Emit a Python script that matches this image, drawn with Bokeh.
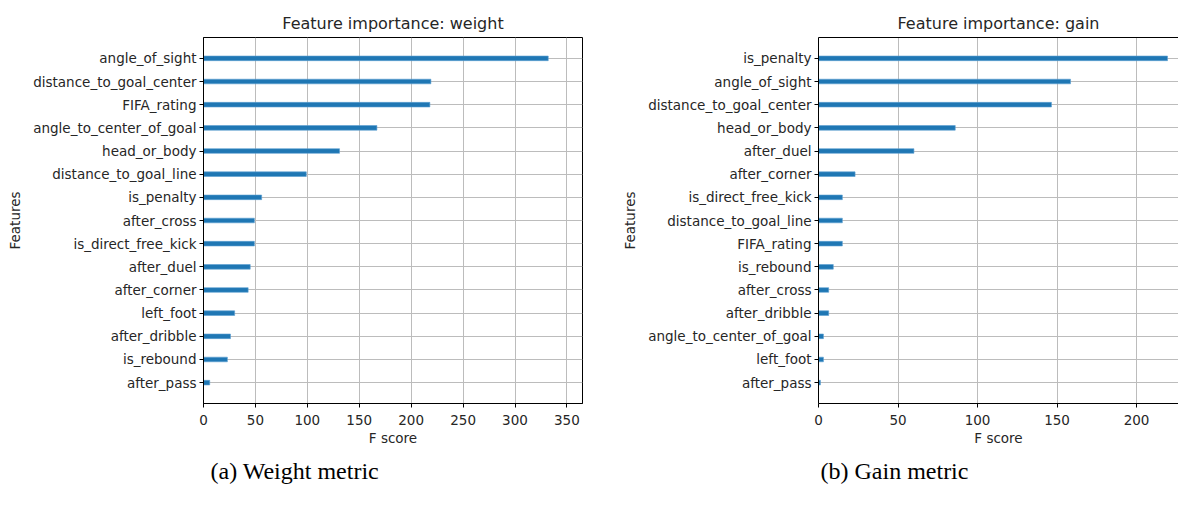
from bokeh.plotting import figure
from bokeh.models import FactorRange, Range1d, LinearAxis, Title, FixedTicker
from bokeh.layouts import row
from bokeh.embed import file_html
from bokeh.resources import INLINE

weight_features = ["angle_of_sight", "distance_to_goal_center", "FIFA_rating",
                   "angle_to_center_of_goal", "head_or_body", "distance_to_goal_line",
                   "is_penalty", "after_cross", "is_direct_free_kick", "after_duel",
                   "after_corner", "left_foot", "after_dribble", "is_rebound", "after_pass"]
weight_scores = [332, 219, 218, 167, 131, 99, 56, 49, 49, 45, 43, 30, 26, 23, 6]

gain_features = ["is_penalty", "angle_of_sight", "distance_to_goal_center", "head_or_body",
                 "after_duel", "after_corner", "is_direct_free_kick", "distance_to_goal_line",
                 "FIFA_rating", "is_rebound", "after_cross", "after_dribble",
                 "angle_to_center_of_goal", "left_foot", "after_pass"]
gain_scores = [219.5, 158.5, 146.5, 86, 60, 23, 15, 15, 15, 9.3, 6.4, 6.4, 3.1, 3.1, 1.2]

weight_ticks = [0, 50, 100, 150, 200, 250, 300, 350]
gain_ticks = [0, 50, 100, 150, 200]

SANS = "DejaVu Sans"
TXT = "#262626"
GRID = "#bcbcbc"


def make(features, scores, title, caption, x_end, ticks, width, border_left,
         border_right, border_bottom, cap_offset, right_spine):
    p = figure(width=width, height=491, output_backend="svg", toolbar_location=None,
               y_range=FactorRange(factors=list(reversed(features)),
                                   range_padding=0.4, range_padding_units="absolute"),
               x_range=Range1d(0, x_end),
               min_border_left=border_left, min_border_right=border_right,
               min_border_top=37, min_border_bottom=border_bottom,
               background_fill_color="white", border_fill_color="white")
    p.hbar(y=features, left=0, right=scores, height=0.2,
           fill_color="#1f77b4", line_color="#5d9fd1", line_width=0.6)

    p.title.text = title
    p.title.align = "center"
    p.title.text_font = SANS
    p.title.text_font_size = "16px"
    p.title.text_font_style = "normal"
    p.title.text_color = TXT

    for ax in (p.xaxis[0], p.yaxis[0]):
        ax.axis_line_color = "black"
        ax.axis_line_width = 1
        ax.major_tick_line_color = "black"
        ax.major_tick_out = 4
        ax.major_tick_in = 0
        ax.minor_tick_line_color = None
        ax.major_label_text_font = SANS
        ax.major_label_text_font_size = "13.5px"
        ax.major_label_text_color = TXT
        ax.axis_label_text_font = SANS
        ax.axis_label_text_font_size = "13.5px"
        ax.axis_label_text_font_style = "normal"
        ax.axis_label_text_color = TXT
        ax.major_label_standoff = 3
    p.xaxis.ticker = FixedTicker(ticks=ticks)
    p.xaxis.major_label_standoff = 7
    p.xaxis.axis_label = "F score"
    p.xaxis.axis_label_standoff = 2
    p.yaxis.axis_label = "Features"
    p.yaxis.axis_label_standoff = 7

    p.xgrid.grid_line_color = GRID
    p.ygrid.grid_line_color = GRID
    p.xgrid.grid_line_width = 1
    p.ygrid.grid_line_width = 1

    if right_spine:
        p.outline_line_color = "black"
        p.outline_line_alpha = 1
        p.outline_line_width = 1
    else:
        p.outline_line_color = None
        top = LinearAxis(ticker=FixedTicker(ticks=[]), axis_line_color="black",
                         major_label_text_font_size="0px", major_tick_line_color=None,
                         minor_tick_line_color=None)
        p.add_layout(top, "above")

    cap = Title(text=caption, align="left", offset=cap_offset,
                text_font="Liberation Serif", text_font_size="24px",
                text_font_style="normal", text_color="black", standoff=15)
    p.add_layout(cap, "below")
    return p


p1 = make(weight_features, weight_scores, "Feature importance: weight", "(a) Weight metric",
          365, weight_ticks, 608, 203, 26, 86, 7, True)
p2 = make(gain_features, gain_scores, "Feature importance: gain", "(b) Gain metric",
          226.4, gain_ticks, 570, 210, 0, 81, 2, False)

layout = row(p1, p2)
open("out.html", "w").write(file_html(layout, INLINE))
